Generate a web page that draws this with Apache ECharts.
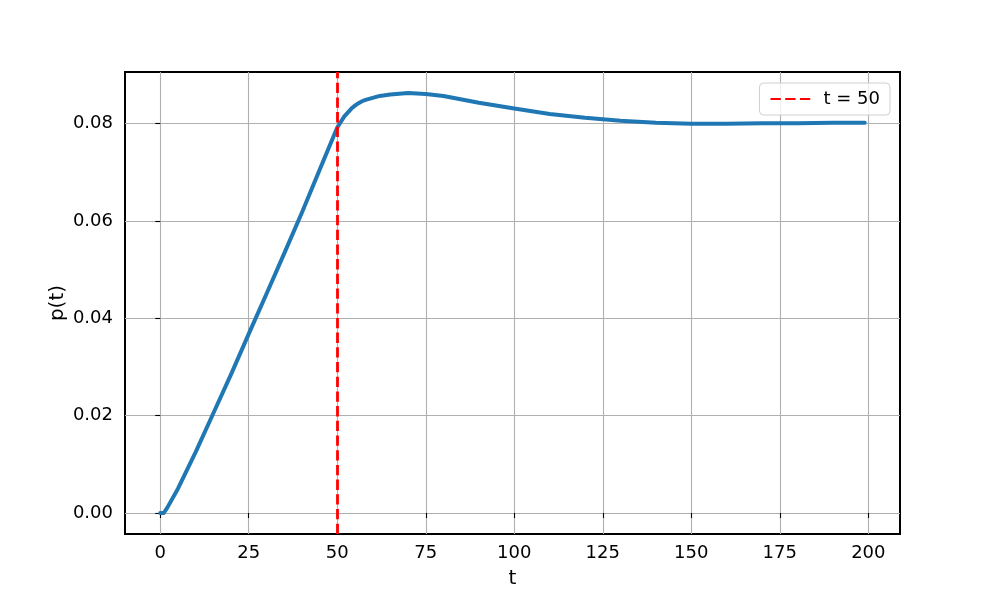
<!DOCTYPE html>
<html>
<head>
<meta charset="utf-8">
<script src="https://cdn.jsdelivr.net/npm/echarts@6/dist/echarts.min.js"></script>
<style>html,body{margin:0;padding:0;background:#fff}#c{width:1000px;height:600px}</style>
</head>
<body>
<div id="c"></div>
<script>
// time points (t) and read-off values of p(t)
const tValues = [0, 1, 2, 5, 10, 15, 20, 25, 30, 35, 40, 45, 50, 52, 54, 55, 56, 57, 58, 60, 62, 65, 70, 75, 80, 90, 100, 110, 120, 130, 140, 150, 160, 170, 180, 190, 199];
const pValues = [0, 0, 0.0011, 0.0050, 0.0125, 0.0205, 0.0285, 0.0368, 0.0450, 0.0533, 0.0617, 0.0705, 0.0792, 0.0815, 0.0831, 0.0837, 0.0842, 0.0846, 0.0849, 0.0853, 0.0857, 0.0860, 0.0863, 0.0861, 0.0857, 0.0843, 0.0831, 0.0820, 0.0812, 0.0806, 0.0802, 0.0800, 0.0800, 0.0801, 0.0801, 0.0802, 0.0802];
const markT = 50;
const markLabel = 't = 50';
const xTicks = [0, 25, 50, 75, 100, 125, 150, 175, 200];
const yTicks = [0, 0.02, 0.04, 0.06, 0.08];

const series1 = tValues.map((t, i) => [t, pValues[i]]);
const tMin = Math.min(...tValues), tMax = Math.max(...tValues);
const pMin = Math.min(...pValues), pMax = Math.max(...pValues);
const xPad = (tMax - tMin) * 0.05, yPad = (pMax - pMin) * 0.05;

const FONT = 'DejaVu Sans';
const chart = echarts.init(document.getElementById('c'), null, {renderer: 'canvas'});
chart.setOption({
  animation: false,
  backgroundColor: '#fff',
  textStyle: {fontFamily: FONT, color: '#000'},
  grid: {left: 125, right: 100, top: 72, bottom: 66, show: true, borderColor: '#000', borderWidth: 2, backgroundColor: 'transparent'},
  legend: {
    data: [markLabel], right: 110, top: 83,
    padding: [7, 10, 7, 10], itemWidth: 40, itemHeight: 12,
    itemStyle: {opacity: 0},
    backgroundColor: 'rgba(255,255,255,0.8)', borderColor: '#d0d0d0', borderWidth: 1, borderRadius: 4,
    textStyle: {fontFamily: FONT, fontSize: 18, color: '#000', padding: [0, 0, 0, 8]}
  },
  xAxis: {
    type: 'value', min: tMin - xPad, max: tMax + xPad,
    name: 't', nameLocation: 'middle', nameGap: 35, nameMoveOverlap: false,
    nameTextStyle: {fontFamily: FONT, fontSize: 20, color: '#000'},
    axisLine: {show: false},
    axisTick: {show: true, customValues: xTicks, length: 5, lineStyle: {color: '#000', width: 1.1}},
    axisLabel: {customValues: xTicks, fontFamily: FONT, fontSize: 18, color: '#000', margin: 10},
    splitLine: {show: true, lineStyle: {color: '#b0b0b0', width: 1.1}}
  },
  yAxis: {
    type: 'value', min: pMin - yPad, max: pMax + yPad,
    name: 'p(t)', nameLocation: 'middle', nameGap: 57, nameMoveOverlap: false,
    nameTextStyle: {fontFamily: FONT, fontSize: 20, color: '#000'},
    axisLine: {show: false},
    axisTick: {show: true, customValues: yTicks, length: 5, lineStyle: {color: '#000', width: 1.1}},
    axisLabel: {customValues: yTicks, fontFamily: FONT, fontSize: 18, color: '#000', margin: 12, formatter: v => v.toFixed(2)},
    splitLine: {show: true, lineStyle: {color: '#b0b0b0', width: 1.1}}
  },
  series: [
    {
      name: 'p', type: 'line', data: series1, symbol: 'none', showSymbol: false, smooth: false,
      lineStyle: {color: '#1f77b4', width: 4, join: 'round', cap: 'round'}, itemStyle: {color: '#1f77b4'}, z: 3
    },
    {
      name: markLabel, type: 'line', data: [], symbol: 'none', showSymbol: false,
      lineStyle: {color: '#ff0000', width: 2.8, type: [10.3, 4.4]}, itemStyle: {color: '#ff0000'},
      markLine: {
        silent: true, symbol: ['none', 'none'], label: {show: false}, animation: false,
        lineStyle: {color: '#ff0000', width: 2.8, type: [10.3, 4.4]},
        data: [{xAxis: markT}]
      }, z: 4
    }
  ]
});
</script>
</body>
</html>
